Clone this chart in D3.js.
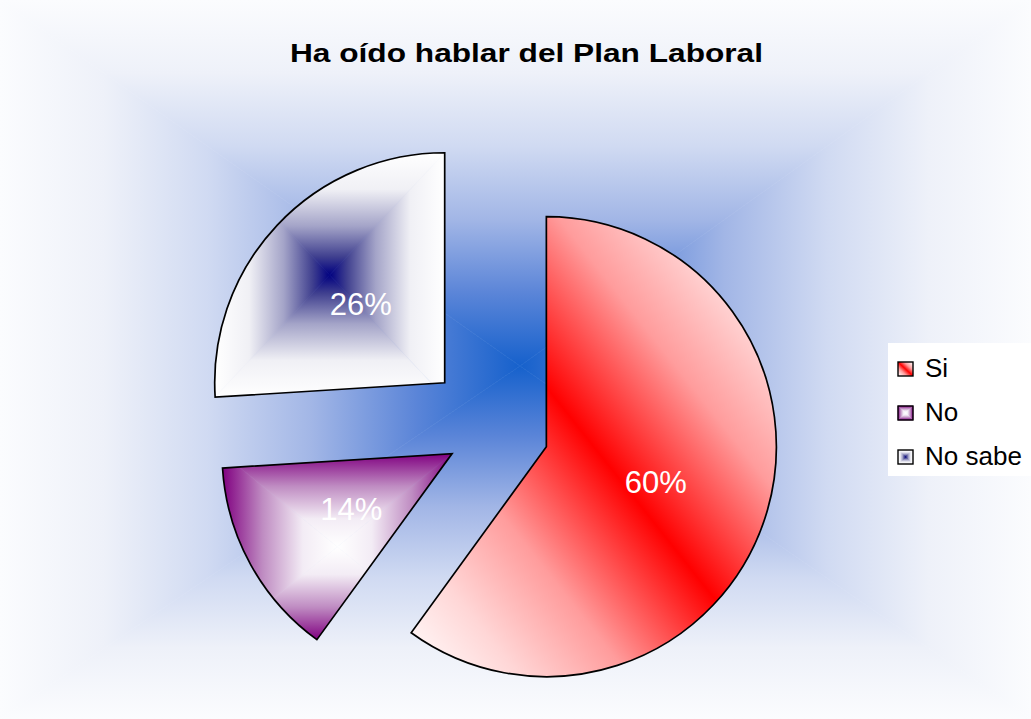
<!DOCTYPE html>
<html>
<head>
<meta charset="utf-8">
<script src="https://cdn.jsdelivr.net/npm/d3@7"></script>
<style>
  body { margin: 0; background: #ffffff; }
  text { font-family: "Liberation Sans", Arial, sans-serif; }
</style>
</head>
<body>
<script>

// chart data
var titleText = 'Ha oído hablar del Plan Laboral';
var categories = ['Si', 'No', 'No sabe'];
var values = [60, 14, 26];

// look of each slice (kept apart from the data)
var explode = [54, 49, 69];
var sliceFills = [
    {type: 'diagonal', stops: [[0, '#ffffff'], [0.15, '#ffd6d6'], [0.3, '#ff9c9c'], [0.5, '#ff0000'],
                               [0.7, '#ff9c9c'], [0.85, '#ffd6d6'], [1, '#ffffff']]},
    {type: 'center', stops: [[0, '#800080'], [0.35, '#bf8cc2'], [0.7, '#f3ecf5'], [1, '#ffffff']]},
    {type: 'center', stops: [[0, '#ffffff'], [0.3, '#f0f0f5'], [0.6, '#a4a4c8'], [0.85, '#40408f'], [1, '#000080']]}
];
var bgStops = [[0, '#fbfcfe'], [0.2, '#eef1f9'], [0.4, '#d0daf2'], [0.6, '#a2b6e6'], [0.8, '#5b85d8'], [1, '#1661cc']];

var W = 1031, H = 719,
    radius = 230,
    pieCenter = [495, 430];

var svg = d3.select('body').append('svg')
    .attr('width', W)
    .attr('height', H);

var defs = svg.append('defs');

function addStops(lg, stops) {
    lg.selectAll('stop')
        .data(stops).enter()
        .append('stop')
        .attr('offset', function(d){ return d[0]; })
        .attr('stop-color', function(d){ return d[1]; });
}

// "from center" rectangular gradient: four triangles, each with a linear ramp edge -> center
function fillFromCenter(g, key, box, stops) {
    var x0 = box.x, y0 = box.y,
        x1 = box.x + box.width, y1 = box.y + box.height;
    var cx = box.cx !== undefined ? box.cx : (x0 + x1) / 2;
    var cy = box.cy !== undefined ? box.cy : (y0 + y1) / 2;

    var sides = [
        {name: 't', pts: [[x0, y0], [x1, y0], [cx, cy]], from: [cx, y0]},
        {name: 'r', pts: [[x1, y0], [x1, y1], [cx, cy]], from: [x1, cy]},
        {name: 'b', pts: [[x1, y1], [x0, y1], [cx, cy]], from: [cx, y1]},
        {name: 'l', pts: [[x0, y1], [x0, y0], [cx, cy]], from: [x0, cy]}
    ];

    sides.forEach(function(s) {
        var id = key + '-' + s.name;
        var lg = defs.append('linearGradient')
            .attr('id', id)
            .attr('gradientUnits', 'userSpaceOnUse')
            .attr('x1', s.from[0]).attr('y1', s.from[1])
            .attr('x2', cx).attr('y2', cy);
        addStops(lg, stops);

        g.append('path')
            .attr('d', 'M' + s.pts.join('L') + 'Z')
            .attr('fill', 'url(#' + id + ')')
            .attr('stroke', 'url(#' + id + ')')
            .attr('stroke-width', 0.6);
    });
}

// diagonal gradient, coloured band on the top-left / bottom-right diagonal
function fillDiagonal(g, key, box, stops) {
    var lg = defs.append('linearGradient')
        .attr('id', key)
        .attr('x1', 0).attr('y1', 1)
        .attr('x2', 1).attr('y2', 0);
    addStops(lg, stops);

    g.append('rect')
        .attr('x', box.x).attr('y', box.y)
        .attr('width', box.width).attr('height', box.height)
        .attr('fill', 'url(#' + key + ')');
}

function paint(g, key, box, f) {
    if (f.type == 'diagonal') {
        fillDiagonal(g, key, box, f.stops);
    } else {
        fillFromCenter(g, key, box, f.stops);
    }
}

// background
fillFromCenter(svg.append('g'), 'bg', {x: 0, y: 0, width: W, height: H, cx: 520, cy: 366}, bgStops);

// title
svg.append('text')
    .attr('x', 290)
    .attr('y', 62)
    .attr('textLength', 473)
    .attr('lengthAdjust', 'spacingAndGlyphs')
    .style('font-size', '26.5px')
    .style('font-weight', 'bold')
    .style('fill', '#000')
    .text(titleText);

// pie
var pie = d3.pie().sort(null).value(function(d){ return d; });
var arc = d3.arc().innerRadius(0).outerRadius(radius);
var total = d3.sum(values);

pie(values).forEach(function(d, i) {
    var mid = (d.startAngle + d.endAngle) / 2;
    var vx = pieCenter[0] + explode[i] * Math.sin(mid),
        vy = pieCenter[1] - explode[i] * Math.cos(mid);

    var g = svg.append('g')
        .attr('class', 'slice')
        .attr('transform', 'translate(' + vx + ',' + vy + ')');

    var shape = arc(d);
    var clipId = 'slice-clip-' + i;
    defs.append('clipPath').attr('id', clipId)
        .append('path').attr('d', shape);

    // bounding box of the slice, used by the fills
    var tmp = g.append('path').attr('d', shape).attr('fill', 'none');
    var bb = tmp.node().getBBox();
    tmp.remove();
    var box = {x: bb.x, y: bb.y, width: bb.width, height: bb.height};

    var fillG = g.append('g').attr('clip-path', 'url(#' + clipId + ')');
    paint(fillG, 'slice-fill-' + i, box, sliceFills[i]);

    g.append('path')
        .attr('d', shape)
        .attr('fill', 'none')
        .attr('stroke', '#000')
        .attr('stroke-width', 1.7);

    var c = arc.centroid(d);
    g.append('text')
        .attr('x', c[0])
        .attr('y', c[1])
        .attr('dy', '0.36em')
        .attr('text-anchor', 'middle')
        .style('font-size', '31px')
        .style('fill', '#ffffff')
        .text(Math.round(d.value / total * 100) + '%');
});

// legend
var legend = svg.append('g').attr('class', 'legend');

legend.append('rect')
    .attr('x', 888)
    .attr('y', 343)
    .attr('width', 160)
    .attr('height', 133)
    .attr('fill', '#ffffff');

categories.forEach(function(name, i) {
    var y = 377 + i * 44;
    var box = {x: 898, y: y - 15, width: 15, height: 14};
    var sw = legend.append('g');
    paint(sw, 'legend-fill-' + i, box, sliceFills[i]);
    sw.append('rect')
        .attr('x', box.x).attr('y', box.y)
        .attr('width', box.width).attr('height', box.height)
        .attr('fill', 'none')
        .attr('stroke', '#000')
        .attr('stroke-width', 1.4);

    legend.append('text')
        .attr('x', 925)
        .attr('y', y)
        .style('font-size', '26px')
        .style('fill', '#000')
        .text(name);
});

</script>
</body>
</html>
